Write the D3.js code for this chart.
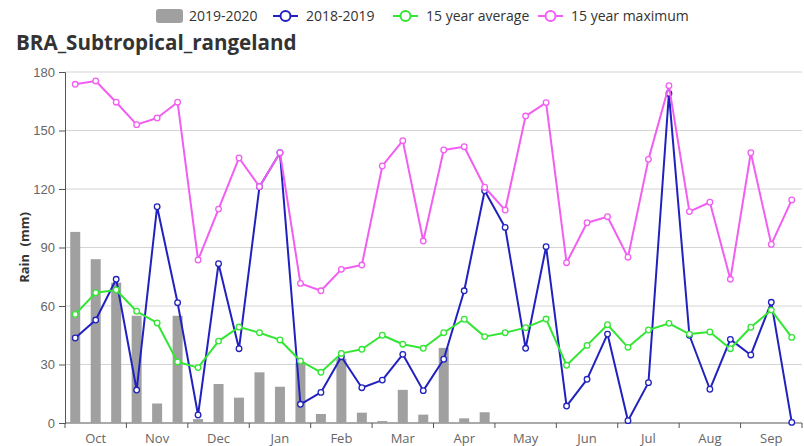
<!DOCTYPE html>
<html>
<head>
<meta charset="utf-8">
<script src="https://cdn.jsdelivr.net/npm/d3@7"></script>
<style>
  html, body { margin: 0; padding: 0; background: #fff; }
  svg { display: block; font-family: "Open Sans", "Noto Sans", sans-serif; }
</style>
</head>
<body>
<div id="chart"></div>
<script>
// dekads Oct..Sep, three per month
const months = ['Oct', 'Nov', 'Dec', 'Jan', 'Feb', 'Mar', 'Apr', 'May', 'Jun', 'Jul', 'Aug', 'Sep'];
const yTicks = [0, 30, 60, 90, 120, 150, 180];

const rain2019 = [98, 84, 72, 55, 10, 55, 2, 20, 13, 26, 18.6, 31,
  4.6, 33, 5.3, 1, 17, 4.3, 38.5, 2.4, 5.5];

const rain2018 = [43.6, 52.8, 73.7, 16.9, 110.9, 61.7, 4.1, 81.7, 38.1, 121.2, 138.6, 9.6,
  15.7, 34, 18.1, 22, 35.2, 16.6, 32.7, 67.8, 119.1, 100.3, 38.3, 90.4,
  8.7, 22.4, 45.6, 1.2, 20.7, 169, 45, 17.3, 42.9, 34.9, 61.9, 0.3];

const avg15 = [55.7, 66.8, 68.2, 57.3, 51.3, 31.3, 28.4, 42, 49.2, 46.3, 42.6, 31.8,
  26, 35.7, 37.8, 45, 40.4, 38.3, 46.3, 53.2, 44.3, 46.3, 48.9, 53.3,
  29.6, 39.8, 50.4, 38.8, 47.7, 51.1, 45.6, 46.7, 38.1, 49.1, 57.9, 43.9];

const max15 = [173.7, 175.4, 164.5, 153, 156.4, 164.5, 83.6, 109.7, 135.9, 121.2, 138.6, 71.6,
  67.8, 78.8, 81, 131.8, 144.8, 93.3, 140, 141.7, 120.9, 109.2, 157.4, 164.3,
  82.2, 102.7, 105.8, 85, 135.2, 173, 108.4, 113.2, 73.7, 138.6, 91.6, 114.4];

const seriesNames = ['2019-2020', '2018-2019', '15 year average', '15 year maximum'];
const colors = ['#a0a0a0', '#2121bf', '#33e633', '#f25ef2'];

const width = 804, height = 446;
const margin = { top: 72, right: 2, bottom: 23, left: 65 };

const svg = d3.select('#chart').append('svg').attr('width', width).attr('height', height);

const dekads = d3.range(36);
const x = d3.scaleBand().domain(dekads).range([margin.left, width - margin.right]);
const y = d3.scaleLinear().domain([0, 180]).range([height - margin.bottom, margin.top]);
const cx = i => x(i) + x.bandwidth() / 2;

// gridlines
svg.append('g')
  .selectAll('line')
  .data(yTicks.filter(t => t > 0))
  .join('line')
  .attr('x1', margin.left).attr('x2', width - margin.right)
  .attr('y1', d => y(d)).attr('y2', d => y(d))
  .attr('stroke', '#d4d4d4').attr('stroke-width', 1);

// y axis
const yAxis = svg.append('g')
  .attr('transform', `translate(${margin.left},0)`)
  .call(d3.axisLeft(y).tickValues(yTicks).tickSize(6).tickPadding(4));
yAxis.select('.domain').attr('stroke', '#555');
yAxis.selectAll('.tick line').attr('stroke', '#555');
yAxis.selectAll('text').attr('fill', '#666').style('font-size', '13px');

// x axis: ticks on month boundaries, labels in month middles
const xAxis = svg.append('g').attr('transform', `translate(0,${y(0)})`);
xAxis.append('line')
  .attr('x1', margin.left).attr('x2', width - margin.right)
  .attr('stroke', '#555');
xAxis.selectAll('.mtick')
  .data(d3.range(0, 37, 3))
  .join('line')
  .attr('class', 'mtick')
  .attr('x1', d => d < 36 ? x(d) : x(35) + x.bandwidth())
  .attr('x2', d => d < 36 ? x(d) : x(35) + x.bandwidth())
  .attr('y1', 0).attr('y2', 5)
  .attr('stroke', '#555');
xAxis.selectAll('.mlabel')
  .data(months)
  .join('text')
  .attr('class', 'mlabel')
  .attr('x', (d, i) => cx(i * 3 + 1))
  .attr('y', 20)
  .attr('text-anchor', 'middle')
  .attr('fill', '#666')
  .style('font-size', '13px')
  .text(d => d);

// y label
svg.append('text')
  .attr('transform', `translate(29,${(y(0) + y(180)) / 2}) rotate(-90)`)
  .attr('text-anchor', 'middle')
  .attr('fill', '#333')
  .style('font-size', '13px')
  .style('font-weight', 'bold')
  .style('word-spacing', '4px')
  .text('Rain (mm)');

// title
svg.append('text')
  .attr('x', 16).attr('y', 50)
  .attr('fill', '#333')
  .style('font-size', '20.6px')
  .style('font-weight', 'bold')
  .text('BRA_Subtropical_rangeland');

// bars
const barW = 10;
svg.append('g')
  .selectAll('rect')
  .data(rain2019)
  .join('rect')
  .attr('x', (d, i) => cx(i) - barW / 2)
  .attr('width', barW)
  .attr('y', d => y(d))
  .attr('height', d => y(0) - y(d))
  .attr('fill', colors[0]);

// lines
const lineSeries = [rain2018, avg15, max15];
lineSeries.forEach((vals, k) => {
  const c = colors[k + 1];
  const line = d3.line().x((d, i) => cx(i)).y(d => y(d));
  const g = svg.append('g');
  g.append('path')
    .datum(vals)
    .attr('d', line)
    .attr('fill', 'none')
    .attr('stroke', c)
    .attr('stroke-width', 2)
    .attr('stroke-linejoin', 'round');
  g.selectAll('circle')
    .data(vals)
    .join('circle')
    .attr('cx', (d, i) => cx(i))
    .attr('cy', d => y(d))
    .attr('r', 2.8)
    .attr('fill', '#fff')
    .attr('stroke', c)
    .attr('stroke-width', 1.3);
});

// legend
const legendX = [156, 273, 393, 538];
const legend = svg.append('g');
seriesNames.forEach((name, k) => {
  const lx = legendX[k];
  const ly = 16;
  if (k === 0) {
    legend.append('rect')
      .attr('x', lx).attr('y', ly - 7)
      .attr('width', 27).attr('height', 14)
      .attr('rx', 3)
      .attr('fill', colors[0]);
  } else {
    legend.append('line')
      .attr('x1', lx).attr('x2', lx + 25)
      .attr('y1', ly).attr('y2', ly)
      .attr('stroke', colors[k]).attr('stroke-width', 2);
    legend.append('circle')
      .attr('cx', lx + 12.5).attr('cy', ly).attr('r', 5)
      .attr('fill', '#fff')
      .attr('stroke', colors[k]).attr('stroke-width', 2);
  }
  legend.append('text')
    .attr('x', lx + 33).attr('y', ly + 5)
    .attr('fill', '#333')
    .style('font-size', '14px')
    .text(name);
});
</script>
</body>
</html>
